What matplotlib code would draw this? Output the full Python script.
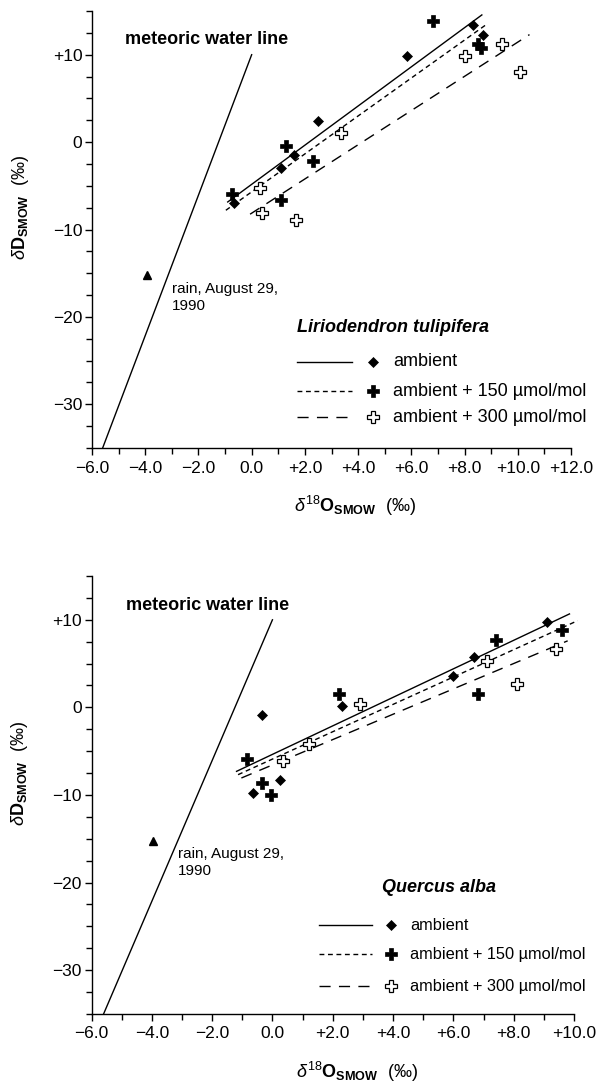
import matplotlib
matplotlib.use("Agg")
import matplotlib.pyplot as plt
from matplotlib.ticker import MultipleLocator, FuncFormatter

plt.rcParams['font.family'] = ['Liberation Sans', 'DejaVu Sans']
plt.rcParams['mathtext.fontset'] = 'custom'
plt.rcParams['mathtext.rm'] = 'Liberation Sans'
plt.rcParams['mathtext.it'] = 'Liberation Sans:italic'
plt.rcParams['mathtext.bf'] = 'Liberation Sans:bold'

# --- data: Liriodendron tulipifera (top) ---
lir_amb_x = [8.3, 8.7, 5.85, 2.5, 1.6, 1.1, -0.65]
lir_amb_y = [13.4, 12.3, 9.9, 2.4, -1.5, -3.0, -7.0]
lir_150_x = [6.8, 8.5, 8.6, 1.3, 2.3, 1.1, -0.75]
lir_150_y = [13.8, 11.2, 10.8, -0.5, -2.2, -6.6, -5.9]
lir_300_x = [9.4, 8.0, 10.1, 3.35, 1.65, 0.3, 0.4]
lir_300_y = [11.2, 9.8, 8.0, 1.0, -8.9, -5.3, -8.1]
# regression lines (end points)
lir_fit_x = {'amb': [-0.9, 8.65], '150': [-0.97, 8.84], '300': [-0.06, 10.44]}
lir_fit_y = {'amb': [-6.85, 14.55], '150': [-7.8, 13.5], '300': [-8.25, 12.3]}

# --- data: Quercus alba (bottom) ---
que_amb_x = [-0.35, -0.65, 0.25, 2.3, 6.0, 6.7, 9.1]
que_amb_y = [-0.9, -9.8, -8.3, 0.15, 3.6, 5.7, 9.7]
que_150_x = [-0.85, -0.35, -0.05, 2.2, 7.4, 6.8, 9.6]
que_150_y = [-5.9, -8.6, -10.0, 1.5, 7.7, 1.5, 8.8]
que_300_x = [0.35, 1.2, 2.9, 7.1, 8.1, 9.4]
que_300_y = [-6.1, -4.2, 0.4, 5.3, 2.7, 6.65]
que_fit_x = {'amb': [-1.19, 9.85], '150': [-1.14, 10.12], '300': [-1.03, 9.79]}
que_fit_y = {'amb': [-7.3, 10.67], '150': [-7.68, 9.9], '300': [-8.06, 7.6]}

# rain sample and meteoric water line
rain_x, rain_y = -3.95, -15.2
mwl_x = [-5.6, 0.0]
mwl_y = [-35.0, 10.0]

labels = ['ambient', 'ambient + 150 µmol/mol', 'ambient + 300 µmol/mol']

W, H = 597, 1086
fig = plt.figure(figsize=(W / 100, H / 100), dpi=100)

styles = {
    'amb': dict(ls='-'),
    '150': dict(ls=(0, (3.5, 2.6))),
    '300': dict(ls=(0, (8, 6))),
}
mk = {
    'amb': dict(marker='D', ms=4.8, mfc='black', mec='black', mew=0.5),
    '150': dict(marker='P', ms=8.5, mfc='black', mec='black', mew=0.5),
    '300': dict(marker='P', ms=9, mfc='white', mec='black', mew=0.9),
}


def xfmt(v, pos):
    if abs(v) < 1e-9:
        return '0.0'
    return ('+%.1f' % v) if v > 0 else ('\u2212%.1f' % abs(v))


def yfmt(v, pos):
    if abs(v) < 1e-9:
        return '0'
    return ('+%d' % v) if v > 0 else ('\u2212%d' % abs(v))


def fpx(px, py):
    return px / W, 1 - py / H


def draw_panel(ax, xmax, pts, fit_x, fit_y, species, txt_pos, leg, legsize):
    ax.set_xlim(-6, xmax)
    ax.set_ylim(-35, 15)
    for s in ['top', 'right']:
        ax.spines[s].set_visible(False)
    for s in ['left', 'bottom']:
        ax.spines[s].set_linewidth(1.0)
    ax.xaxis.set_major_locator(MultipleLocator(2))
    ax.xaxis.set_minor_locator(MultipleLocator(1))
    ax.yaxis.set_major_locator(MultipleLocator(10))
    ax.yaxis.set_minor_locator(MultipleLocator(2.5))
    ax.xaxis.set_major_formatter(FuncFormatter(xfmt))
    ax.yaxis.set_major_formatter(FuncFormatter(yfmt))
    ax.tick_params(which='major', direction='out', length=5, width=1.0, labelsize=12.5)
    ax.tick_params(which='minor', direction='out', length=4, width=1.0)
    ax.tick_params(axis='x', pad=4)
    ax.tick_params(axis='y', pad=2)

    # meteoric water line
    ax.plot(mwl_x, mwl_y, color='black', lw=1.0, clip_on=False)
    ax.plot(rain_x, rain_y, marker='^', ms=6, color='black', ls='none')

    for key in ['amb', '150', '300']:
        ax.plot(fit_x[key], fit_y[key], color='black', lw=1.0, clip_on=False, **styles[key])
    for key, (xs, ys) in zip(['amb', '150', '300'], pts):
        ax.plot(xs, ys, ls='none', clip_on=False, zorder=3, **mk[key])

    (mx, my), (rx, ry) = txt_pos
    ax.text(mx, my, 'meteoric water line', fontsize=13, fontweight='bold',
            ha='left', va='center')
    ax.text(rx, ry, 'rain, August 29,\n1990', fontsize=11, ha='left', va='center',
            linespacing=1.3)

    ax.set_ylabel(r'$\delta\mathbf{D}_{\mathbf{SMOW}}$  (‰)', fontsize=13)
    ax.yaxis.set_label_coords(-0.128, 0.55)
    ax.set_xlabel(r'$\delta^{18}\mathbf{O}_{\mathbf{SMOW}}$  (‰)', fontsize=13)
    ax.xaxis.set_label_coords(0.55, -0.105)

    # legend block (drawn by hand, like the original figure)
    tx, ty, rows_y, lx0, lx1, mkx, txx = leg
    fig.text(*fpx(tx, ty), species, fontsize=13, fontweight='bold', fontstyle='italic',
             ha='left', va='center')
    for key, yy, lab in zip(['amb', '150', '300'], rows_y, labels):
        x0, y0 = fpx(lx0, yy)
        x1, _ = fpx(lx1, yy)
        fig.add_artist(plt.Line2D([x0, x1], [y0, y0], color='black', lw=1.0,
                                  transform=fig.transFigure, **styles[key]))
        xm, _ = fpx(mkx, yy)
        fig.add_artist(plt.Line2D([xm], [y0], ls='none', transform=fig.transFigure, **mk[key]))
        fig.text(*fpx(txx, yy), lab, fontsize=legsize, ha='left', va='center')


ax1 = fig.add_axes([92 / W, 1 - 448 / H, (571 - 92) / W, (448 - 11) / H])
draw_panel(ax1, 12,
           [(lir_amb_x, lir_amb_y), (lir_150_x, lir_150_y), (lir_300_x, lir_300_y)],
           lir_fit_x, lir_fit_y, 'Liriodendron tulipifera',
           ((-4.76, 11.7), (-2.99, -17.8)),
           (297, 328, [362, 391, 417], 297, 352, 373, 393), 13)

ax2 = fig.add_axes([91.5 / W, 1 - 1014 / H, (574 - 91.5) / W, (1014 - 576) / H])
draw_panel(ax2, 10,
           [(que_amb_x, que_amb_y), (que_150_x, que_150_y), (que_300_x, que_300_y)],
           que_fit_x, que_fit_y, 'Quercus alba',
           ((-4.86, 11.6), (-3.13, -17.7)),
           (382, 888, [925, 954, 986], 319, 372, 391, 410), 11.8)

fig.savefig('out.png', dpi=100)
